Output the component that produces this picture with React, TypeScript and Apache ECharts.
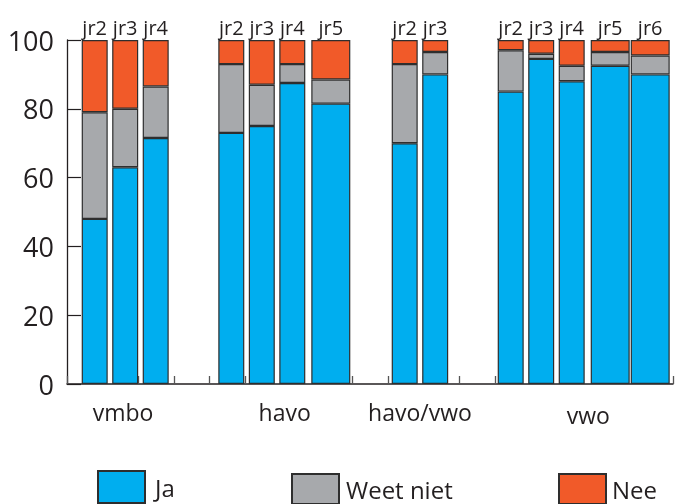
import React, { useEffect, useRef } from "react";
import * as echarts from "echarts";

// ---------- data ----------
const GROUPS = ["vmbo", "havo", "havo/vwo", "vwo"];
const YEARS: string[][] = [
  ["jr2", "jr3", "jr4"],
  ["jr2", "jr3", "jr4", "jr5"],
  ["jr2", "jr3"],
  ["jr2", "jr3", "jr4", "jr5", "jr6"],
];
const SERIES_NAMES = ["Ja", "Weet niet", "Nee"];
const JA = [48, 63, 71.5, 73, 75, 87.5, 81.5, 70, 90, 85, 94.5, 88, 92.5, 90];
const WEET_NIET = [31, 17, 15, 20, 12, 5.5, 7, 23, 6.5, 12, 1.5, 4.5, 4, 5.5];
const NEE = [21, 20, 13.5, 7, 13, 7, 11.5, 7, 3.5, 3, 4, 7.5, 3.5, 4.5];
const Y_MIN = 0;
const Y_MAX = 100;
const Y_STEP = 20;

// ---------- style / layout ----------
const COLORS = ["#00AEEF", "#A7A9AC", "#F15A29"];
const INK = "#231F20";
const FONT = "Open Sans";
const WIDE_BARS = ["havo jr5", "vwo jr5", "vwo jr6"];
const PLOT_LEFT = 67;
const PLOT_TOP = 40;
const PLOT_W = 606;
const PLOT_H = 344;
const AXIS_UNITS = 17; // tick slots along the base axis
const PX = PLOT_W / AXIS_UNITS;
const NARROW_W = 26;
const WIDE_W = 39;
const FIRST_PAD = 14.7;
const BAR_GAP = 4.5;
const WIDE_GAP_BEFORE = 6;
const WIDE_WIDE_GAP = 1;
const GROUP_GAPS = [49.6, 41.4, 49.5];
const GROUP_LABEL_POS = [
  { x: 123, y: 412 },
  { x: 284.7, y: 412 },
  { x: 420, y: 412 },
  { x: 588.3, y: 415 },
];
const LEGEND_POS = [
  { left: 97, top: 470, h: 32, textPad: 5 },
  { left: 291, top: 473, h: 30, textPad: 2 },
  { left: 558, top: 473, h: 30, textPad: 1 },
];

type Bar = { group: string; year: string; wide: boolean; center: number; idx: number };

function layoutBars(): Bar[] {
  const bars: Bar[] = [];
  let cursor = FIRST_PAD;
  let idx = 0;
  GROUPS.forEach((g, gi) => {
    if (gi > 0) cursor += GROUP_GAPS[gi - 1];
    let prevWide: boolean | null = null;
    YEARS[gi].forEach((yr) => {
      const wide = WIDE_BARS.includes(`${g} ${yr}`);
      if (prevWide !== null) {
        cursor += wide ? (prevWide ? WIDE_WIDE_GAP : WIDE_GAP_BEFORE) : BAR_GAP;
      }
      const w = wide ? WIDE_W : NARROW_W;
      bars.push({ group: g, year: yr, wide, center: (cursor + w / 2) / PX, idx });
      cursor += w;
      prevWide = wide;
      idx++;
    });
  });
  return bars;
}

export default function App() {
  const ref = useRef<HTMLDivElement>(null);
  useEffect(() => {
    if (!ref.current) return;
    const chart = echarts.init(ref.current, undefined, { renderer: "svg" });
    const bars = layoutBars();
    const values = [JA, WEET_NIET, NEE];

    const series: any[] = [];
    [false, true].forEach((wide) => {
      const subset = bars.filter((b) => b.wide === wide);
      SERIES_NAMES.forEach((name, si) => {
        series.push({
          type: "bar",
          name,
          xAxisIndex: wide ? 1 : 0,
          stack: wide ? "wide" : "narrow",
          barWidth: wide ? WIDE_W : NARROW_W,
          // value first so that the stacked dimension is the y value
          encode: { x: 1, y: 0 },
          data: subset.map((b) => ({ value: [values[si][b.idx], b.center], year: b.year })),
          itemStyle: { color: COLORS[si], borderColor: "#2e2e2e", borderWidth: 1.2 },
          label:
            si === SERIES_NAMES.length - 1
              ? {
                  show: true,
                  position: "top",
                  distance: 3,
                  formatter: (p: any) => p.data.year,
                  fontSize: 20,
                  fontFamily: FONT,
                  color: INK,
                }
              : { show: false },
          emphasis: { disabled: true },
        });
      });
    });

    chart.setOption({
      animation: false,
      grid: { left: PLOT_LEFT, top: PLOT_TOP, width: PLOT_W, height: PLOT_H, containLabel: false },
      xAxis: [
        {
          type: "value",
          min: 0,
          max: AXIS_UNITS,
          interval: 1,
          axisLine: { show: true, lineStyle: { color: INK, width: 1.5 } },
          axisTick: { show: true, inside: true, length: 8, lineStyle: { color: "#555", width: 1.3 } },
          axisLabel: { show: false },
          splitLine: { show: false },
        },
        { type: "value", min: 0, max: AXIS_UNITS, show: false, splitLine: { show: false } },
      ],
      yAxis: {
        type: "value",
        min: Y_MIN,
        max: Y_MAX,
        interval: Y_STEP,
        axisLine: { show: true, lineStyle: { color: INK, width: 1.3 } },
        axisTick: { show: true, inside: true, length: 14, lineStyle: { color: INK, width: 1.2 } },
        axisLabel: { fontSize: 27, fontFamily: FONT, color: INK, margin: 13 },
        splitLine: { show: false },
      },
      legend: SERIES_NAMES.map((n, i) => ({
        data: [n],
        left: LEGEND_POS[i].left,
        top: LEGEND_POS[i].top,
        padding: 0,
        itemWidth: 47,
        itemHeight: LEGEND_POS[i].h,
        icon: "rect",
        selectedMode: false,
        textStyle: {
          fontSize: 24,
          fontFamily: FONT,
          color: INK,
          padding: [0, 0, 0, LEGEND_POS[i].textPad],
        },
      })),
      graphic: GROUPS.map((g, i) => ({
        type: "text",
        x: GROUP_LABEL_POS[i].x,
        y: GROUP_LABEL_POS[i].y,
        style: {
          text: g,
          fontSize: 23,
          fontFamily: FONT,
          fill: INK,
          textAlign: "center",
          textVerticalAlign: "middle",
        },
      })),
      series,
    });
    return () => chart.dispose();
  }, []);
  return (
    <div
      ref={ref}
      style={{ position: "fixed", left: 0, top: 0, width: 675, height: 504 }}
    />
  );
}
